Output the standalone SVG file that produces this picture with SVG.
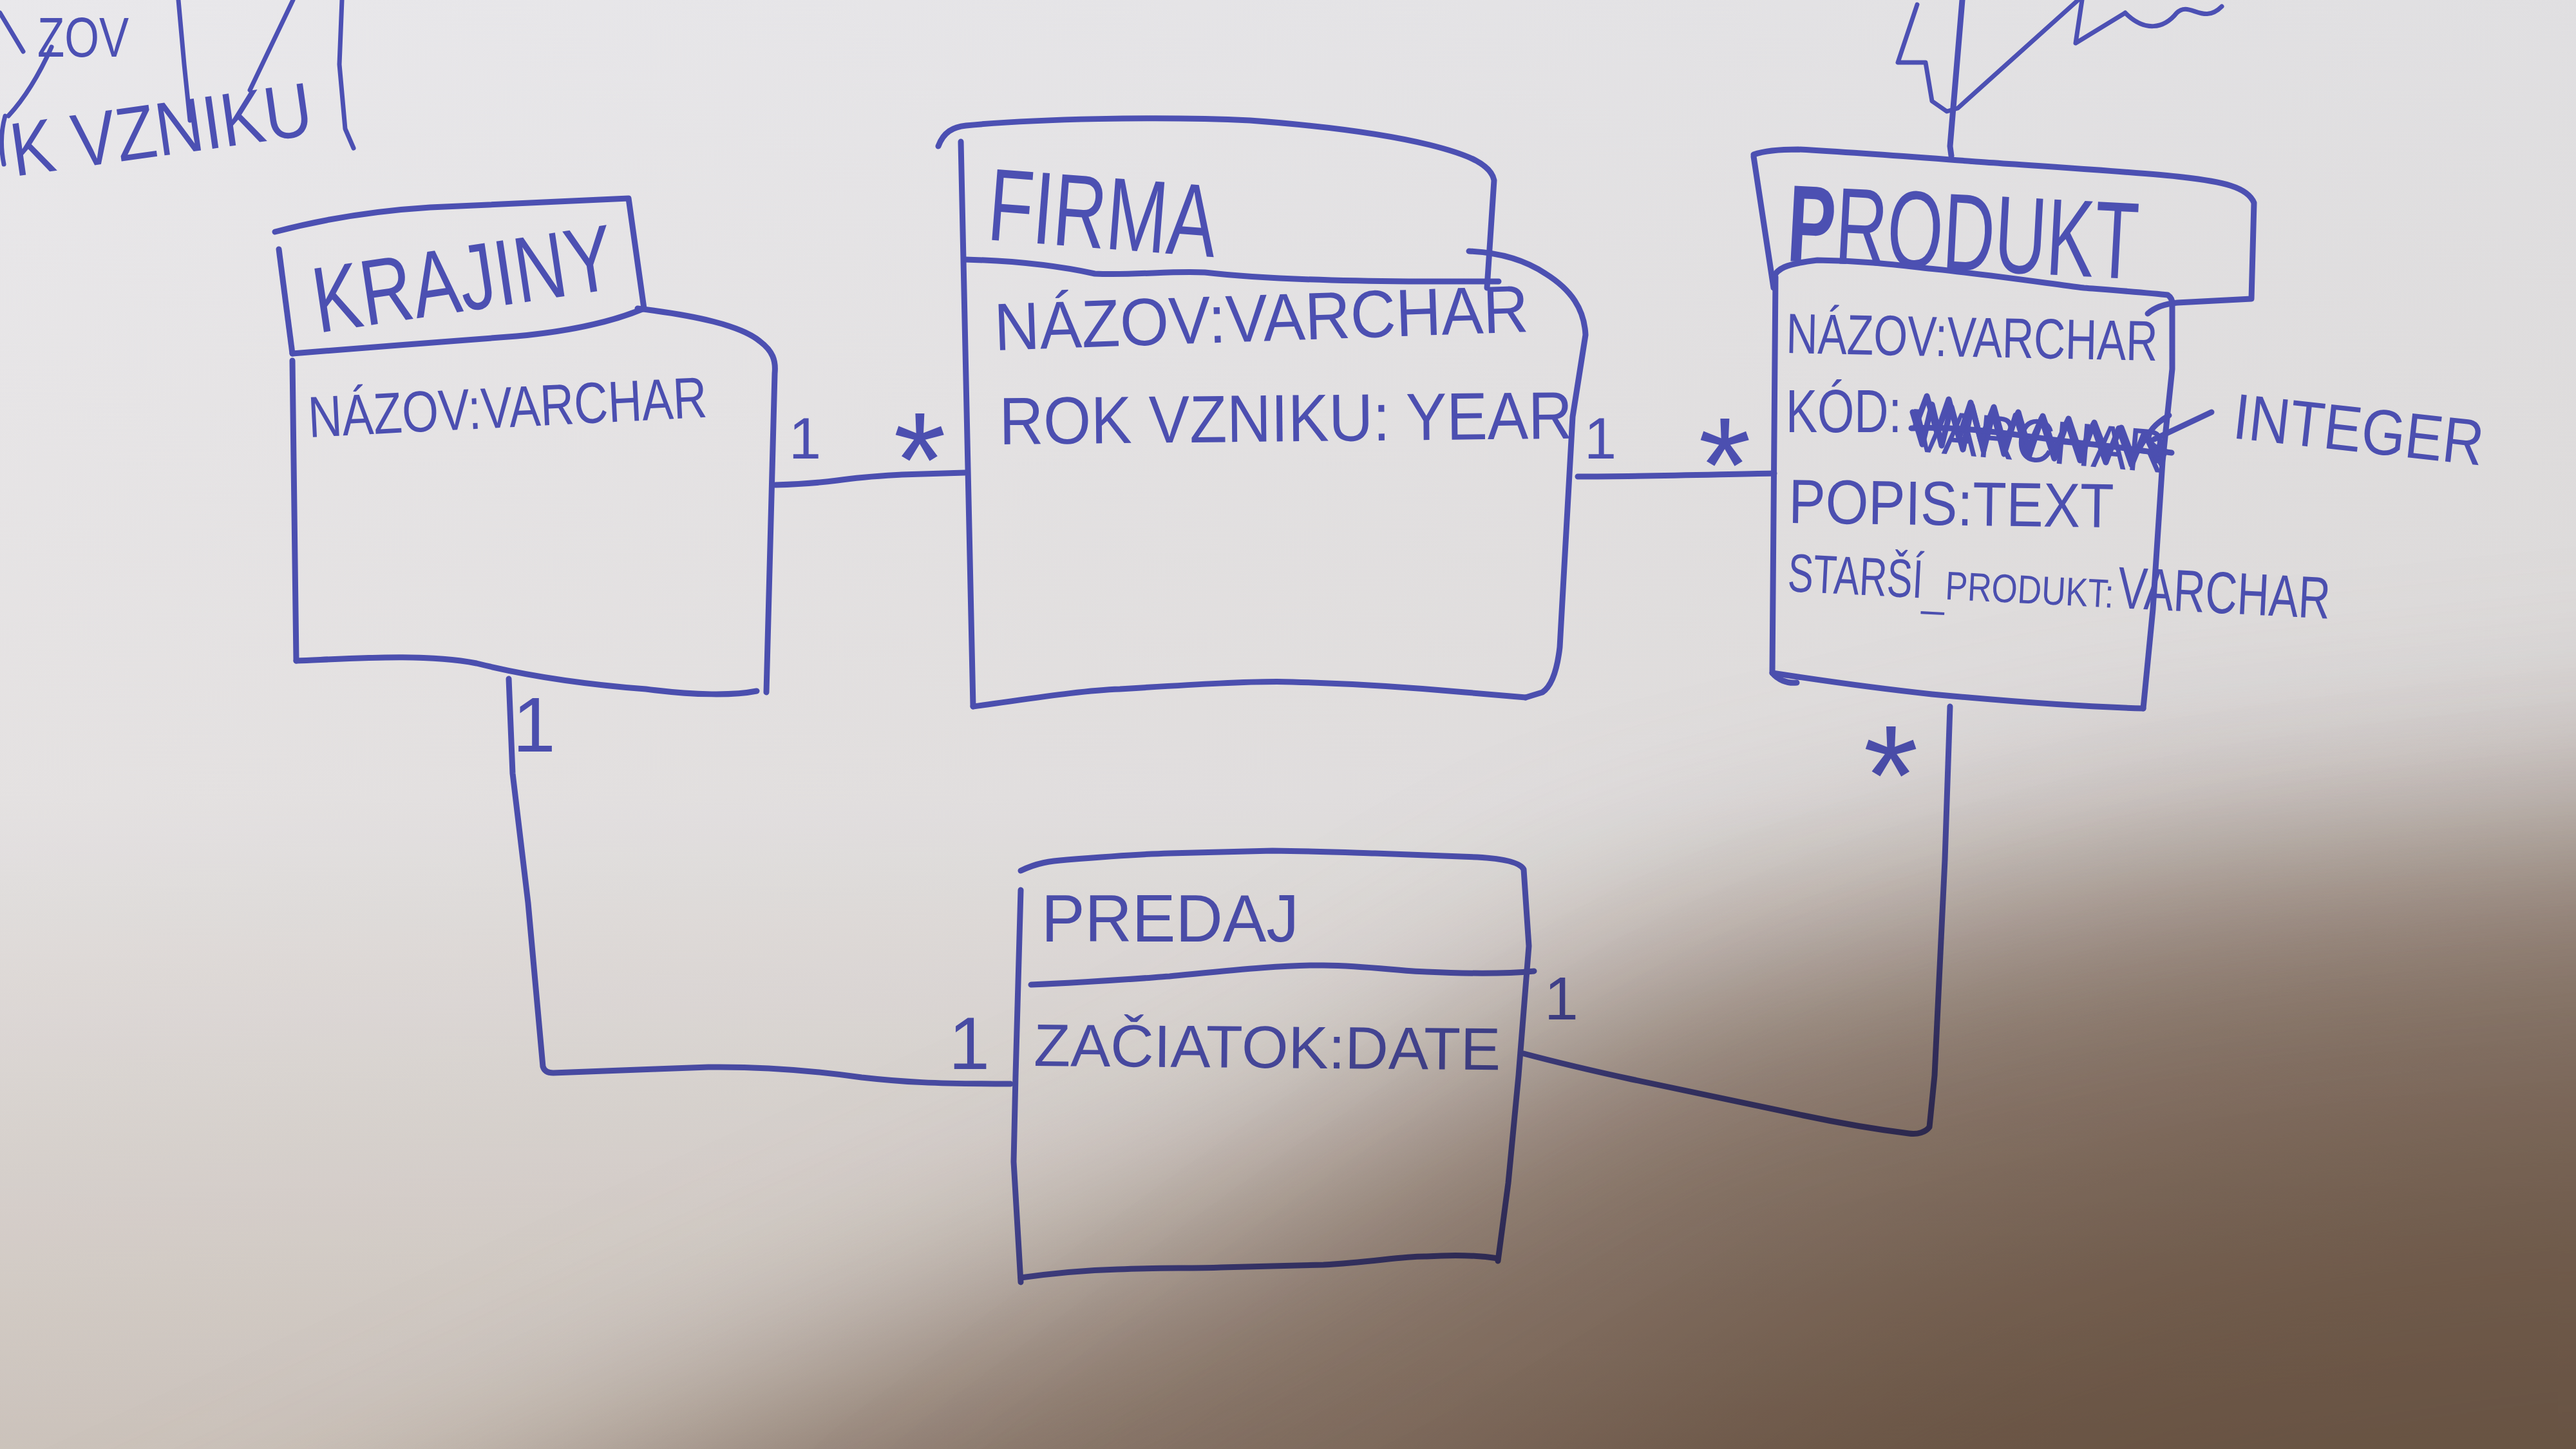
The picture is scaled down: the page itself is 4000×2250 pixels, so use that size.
<svg xmlns="http://www.w3.org/2000/svg" width="4000" height="2250" viewBox="0 0 4000 2250">
<defs>
<linearGradient id="paper" x1="0" y1="0" x2="4000" y2="900" gradientUnits="userSpaceOnUse">
<stop offset="0" stop-color="#e9e8eb"/>
<stop offset="1" stop-color="#e0dfe1"/>
</linearGradient>
<linearGradient id="vshade" x1="0" y1="0" x2="0" y2="2250" gradientUnits="userSpaceOnUse">
<stop offset="0" stop-color="#ffffff"/>
<stop offset="0.55" stop-color="#fbf9f6"/>
<stop offset="1" stop-color="#e0d7cc"/>
</linearGradient>
<filter id="blur1" filterUnits="userSpaceOnUse" x="-600" y="-600" width="5400" height="3600">
<feGaussianBlur stdDeviation="170"/>
</filter>
<filter id="blur2" filterUnits="userSpaceOnUse" x="-600" y="-600" width="5400" height="3600">
<feGaussianBlur stdDeviation="260"/>
</filter>
</defs>
<style>
.ink{fill:none;stroke:#4c50b4;stroke-width:9;stroke-linecap:round;stroke-linejoin:round}
.thin{stroke-width:7}
.t{font-family:"Liberation Sans",Arial,sans-serif;fill:#4c50b4}
.lbl{font-family:"Liberation Sans",Arial,sans-serif;fill:#4c50b4}
.shade{mix-blend-mode:multiply}
</style>
<rect width="4000" height="2250" fill="url(#paper)"/>

<g id="fragments">
<text class="t" x="58" y="88" font-size="88" textLength="142" lengthAdjust="spacingAndGlyphs">ZOV</text>
<text class="t" x="20" y="257" font-size="118" textLength="471" lengthAdjust="spacingAndGlyphs" transform="rotate(-8 143 247)">K VZNIKU</text>
<path class="ink thin" d="M8,180 Q-2,215 6,255"/>
<path class="ink thin" d="M0,20 L36,80"/>
<path class="ink thin" d="M80,73 Q50,140 13,180"/>
<path class="ink thin" d="M277,0 L286,100 L295,187"/>
<path class="ink thin" d="M455,0 L388,140"/>
<path class="ink thin" d="M531,0 L527,100 L536,200 L549,230"/>
<path class="ink" d="M3047,0 L3028,227 L3030,242"/>
<path class="ink thin" d="M2977,7 L2947,97 L2990,97 L3000,157 L3023,173 L3040,168 L3227,0"/>
<path class="ink thin" d="M3233,0 L3223,67 L3300,20"/>
<path class="ink thin" d="M3300,20 C3330,50 3360,45 3380,20 C3400,0 3420,40 3450,10"/>
</g>

<g id="connectors">
<path class="ink" d="M1204,753 C1240,752 1270,750 1300,746 C1340,740 1364,739 1400,737 L1498,734"/>
<path class="ink" d="M2450,740 C2550,740 2650,737 2755,735"/>
<path class="ink" d="M790,1054 L796,1201 L820,1402 L843,1656 C845,1663 850,1666 859,1666 C920,1664 1019,1660 1100,1657 C1178,1656 1260,1662 1338,1673 C1400,1680 1449,1683 1569,1683"/>
<path class="ink" d="M3028,1097 L3020,1335 L3004,1670 L2996,1750 C2990,1758 2978,1762 2964,1760 C2900,1752 2852,1743 2800,1732 C2693,1710 2600,1690 2534,1676 C2460,1660 2400,1645 2366,1636"/>
<text class="lbl" x="1225" y="712" font-size="90">1</text>
<text class="lbl" x="1428" y="786" font-size="210" text-anchor="middle">*</text>
<text class="lbl" x="2460" y="712" font-size="90">1</text>
<text class="lbl" x="2678" y="794" font-size="210" text-anchor="middle">*</text>
<text class="lbl" x="796" y="1167" font-size="120">1</text>
<text class="lbl" x="1473" y="1660" font-size="115">1</text>
<text class="lbl" x="2398" y="1583" font-size="95">1</text>
<text class="lbl" x="2936" y="1280" font-size="220" text-anchor="middle">*</text>
</g>

<g id="krajiny">
<path class="ink" d="M427,360 Q540,330 668,322 L976,308 L1000,479"/>
<path class="ink" d="M433,387 L454,549"/>
<path class="ink" d="M454,549 C560,540 700,530 802,522 C880,515 950,500 1000,479"/>
<path class="ink" d="M990,479 C1080,490 1150,505 1180,530 C1200,545 1205,560 1203,580 L1190,1075"/>
<path class="ink" d="M454,560 L460,1026"/>
<path class="ink" d="M460,1026 C560,1022 660,1015 740,1030 C820,1050 900,1062 1003,1070 C1080,1080 1140,1080 1175,1073"/>
<text class="t" x="494" y="517" font-size="145" textLength="470" lengthAdjust="spacingAndGlyphs" transform="rotate(-8.5 494 517)">KRAJINY</text>
<text class="t" x="480" y="679" font-size="90" textLength="620" lengthAdjust="spacingAndGlyphs" transform="rotate(-2.9 480 679)">NÁZOV:VARCHAR</text>
</g>

<g id="firma">
<path class="ink" d="M1457,227 C1465,205 1480,197 1500,195 C1600,185 1800,180 1941,187 C2050,195 2150,208 2220,225 C2280,240 2315,255 2320,280 L2309,447"/>
<path class="ink" d="M1492,220 L1511,1097"/>
<path class="ink" d="M1499,403 C1580,405 1640,412 1700,425 C1760,428 1820,420 1871,423 C1950,432 2050,436 2187,437 L2327,437"/>
<path class="ink" d="M2281,390 C2330,392 2370,405 2400,425 C2440,450 2460,480 2462,520 L2442,647 L2422,1005 C2418,1040 2410,1065 2395,1075 L2369,1083"/>
<path class="ink" d="M1511,1097 C1600,1085 1680,1072 1739,1070 C1850,1063 1950,1057 2007,1059 C2120,1062 2220,1070 2275,1075 L2369,1083"/>
<text class="t" x="1531" y="372" font-size="160" textLength="355" lengthAdjust="spacingAndGlyphs" transform="rotate(4.4 1531 372)">FIRMA</text>
<text class="t" x="1545" y="544" font-size="104" textLength="830" lengthAdjust="spacingAndGlyphs" transform="rotate(-2 1545 544)">NÁZOV:VARCHAR</text>
<text class="t" x="1552" y="690" font-size="104" textLength="890" lengthAdjust="spacingAndGlyphs" transform="rotate(-0.6 1552 690)">ROK VZNIKU: YEAR</text>
</g>

<g id="produkt">
<path class="ink" d="M2723,240 C2740,234 2760,232 2792,232 C2900,238 3000,246 3083,252 C3200,260 3330,268 3389,275 C3450,282 3490,290 3500,315 L3496,464 L3381,470 C3360,472 3345,478 3335,487"/>
<path class="ink" d="M2723,243 L2754,447"/>
<path class="ink" d="M2754,430 C2760,418 2770,410 2822,404 C2900,405 2950,412 3006,418 C3100,428 3180,440 3236,447 C3300,452 3340,455 3366,458 C3372,462 3374,468 3373,476 L3373,573 L3358,717 L3343,946 L3328,1100"/>
<path class="ink" d="M2757,430 L2752,1045 C2760,1055 2775,1062 2790,1060"/>
<path class="ink" d="M2752,1045 C2850,1060 2934,1071 3000,1078 C3150,1092 3250,1098 3328,1100"/>
<text class="t" x="2773" y="405" font-size="170" textLength="545" lengthAdjust="spacingAndGlyphs" transform="rotate(3 2773 405)"><tspan font-weight="bold">P</tspan>RODUKT</text>
<text class="t" x="2773" y="548" font-size="88" textLength="577" lengthAdjust="spacingAndGlyphs" transform="rotate(1.2 2773 548)">NÁZOV:VARCHAR</text>
<text class="t" x="2773" y="671" font-size="95" textLength="180" lengthAdjust="spacingAndGlyphs">KÓD:</text>
<text class="t" x="2966" y="700" font-size="95" textLength="395" lengthAdjust="spacingAndGlyphs" transform="rotate(5 2966 700)">VARCHAR</text>
<path class="ink" stroke-width="11" d="M2970,640 L2985,690 L3000,628 L3015,692 L3030,632 L3048,698 L3062,630 L3080,700 L3095,640 L3112,705 L3130,645 L3150,710 L3170,650 L3190,712 L3210,655 L3230,715 L3250,660 L3270,718 L3290,665 L3310,722 L3330,672 L3350,715"/>
<path class="ink" stroke-width="8" d="M2975,660 L2992,615 L3008,672 L3026,620 L3042,680 L3060,625 L3076,684 L3096,632 L3112,690 L3134,640 L3150,696 L3172,646 L3190,700 L3212,650 L3230,704 L3252,656 L3272,708 L3294,664 L3312,712 L3334,676 L3356,720"/>
<path class="ink" stroke-width="7" d="M2968,665 C3060,660 3150,680 3250,690 C3300,695 3330,700 3360,705"/>
<path class="ink" d="M3368,645 Q3335,665 3336,682 Q3345,700 3372,703"/>
<path class="ink" d="M3345,682 L3434,640"/>
<text class="t" x="3465" y="680" font-size="100" textLength="390" lengthAdjust="spacingAndGlyphs" transform="rotate(6.3 3465 680)">INTEGER</text>
<text class="t" x="2777" y="812" font-size="97" textLength="505" lengthAdjust="spacingAndGlyphs" transform="rotate(0.8 2777 812)">POPIS:TEXT</text>
<g transform="rotate(2.9 2775 918)">
<text class="t" x="2775" y="918" font-size="84" textLength="210" lengthAdjust="spacingAndGlyphs">STARŠÍ</text>
<text class="t" x="2985" y="930" font-size="64" textLength="35" lengthAdjust="spacingAndGlyphs">_</text>
<text class="t" x="3020" y="918" font-size="62" textLength="262" lengthAdjust="spacingAndGlyphs">PRODUKT:</text>
<text class="t" x="3288" y="918" font-size="92" textLength="330" lengthAdjust="spacingAndGlyphs">VARCHAR</text>
</g>
</g>

<g id="predaj">
<path class="ink" d="M1585,1352 C1610,1340 1630,1337 1657,1335 C1720,1330 1780,1326 1816,1325 L1976,1321 C2050,1322 2100,1324 2135,1325 C2200,1327 2260,1330 2294,1331 C2330,1333 2360,1338 2366,1350 L2374,1469 L2358,1670 L2342,1837 L2326,1958"/>
<path class="ink" d="M1585,1382 L1577,1670 L1574,1804 L1585,1991"/>
<path class="ink" d="M1585,1984 C1650,1975 1700,1972 1736,1971 C1800,1968 1850,1970 1896,1968 C1980,1966 2030,1965 2055,1964 C2130,1960 2180,1950 2215,1951 C2260,1948 2300,1950 2326,1954"/>
<path class="ink" d="M1601,1529 C1700,1525 1760,1520 1816,1516 C1900,1508 1990,1498 2055,1499 C2130,1500 2170,1508 2215,1509 C2280,1512 2340,1512 2382,1508"/>
<text class="t" x="1617" y="1462" font-size="103" textLength="400" lengthAdjust="spacingAndGlyphs">PREDAJ</text>
<text class="t" x="1605" y="1655" font-size="93" textLength="725" lengthAdjust="spacingAndGlyphs" transform="rotate(0.5 1605 1655)">ZAČIATOK:DATE</text>
</g>

<rect class="shade" width="4000" height="2250" fill="url(#vshade)"/>
<g class="shade">
<path fill="#a8968a" filter="url(#blur1)" d="M115,2700 L1085,2250 L1915,1880 L2550,1510 L3300,1330 L4000,1260 L4600,1200 L4600,2900 L115,2900 Z"/>
</g>
<g class="shade">
<path fill="#cdbfae" filter="url(#blur2)" d="M1500,2900 L2300,2300 L2900,1900 L3500,1720 L4600,1600 L4600,2900 Z"/>
</g>
</svg>
